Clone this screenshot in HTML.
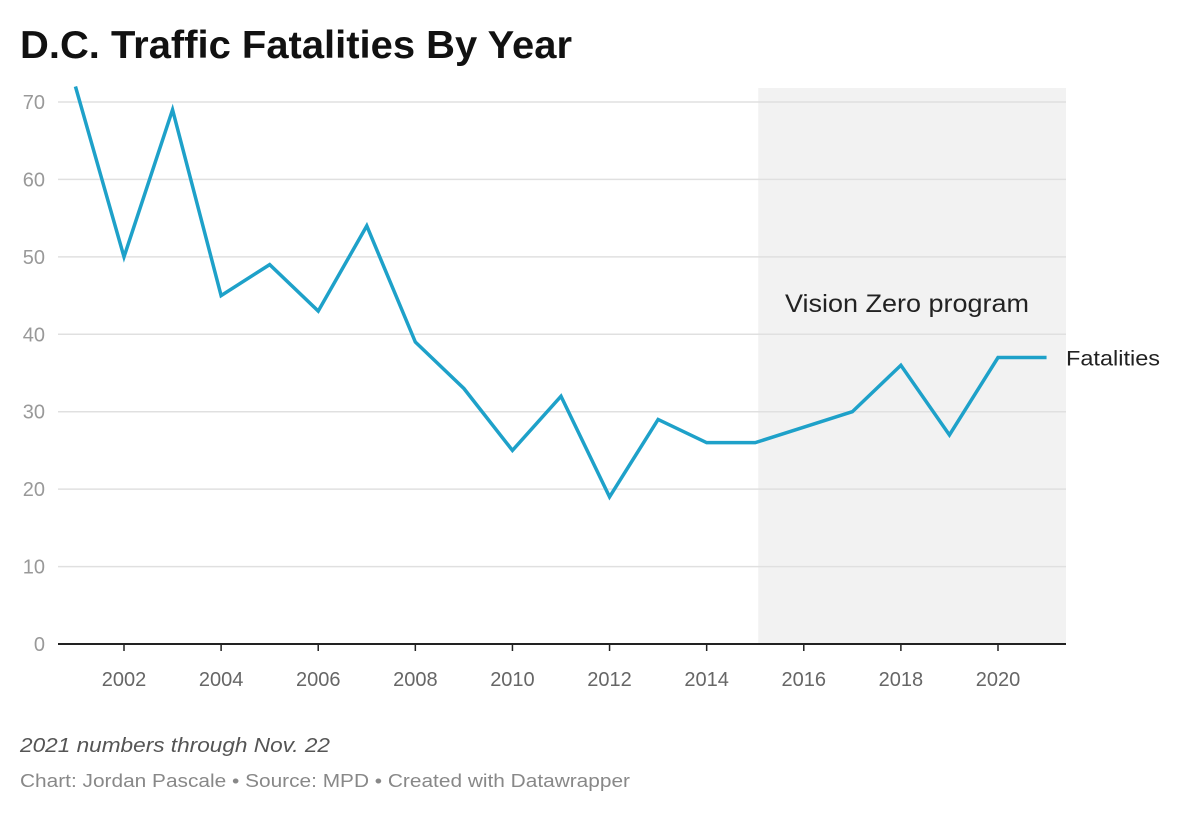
<!DOCTYPE html>
<html><head><meta charset="utf-8"><style>
body{margin:0;background:#fff;width:1200px;height:813px;overflow:hidden;font-family:"Liberation Sans",sans-serif;}
</style></head><body>
<svg width="1200" height="813" xmlns="http://www.w3.org/2000/svg">
<text x="20" y="58" font-size="39" font-weight="bold" fill="#111" textLength="552" lengthAdjust="spacingAndGlyphs">D.C. Traffic Fatalities By Year</text>
<g id="plot"></g>
<text x="20" y="752" font-size="20" font-style="italic" fill="#555" textLength="310" lengthAdjust="spacingAndGlyphs">2021 numbers through Nov. 22</text>
<text x="20" y="787" font-size="18" fill="#888" textLength="610" lengthAdjust="spacingAndGlyphs">Chart: Jordan Pascale • Source: MPD • Created with Datawrapper</text>
</svg>
<script>
const years=[2001,2002,2003,2004,2005,2006,2007,2008,2009,2010,2011,2012,2013,2014,2015,2016,2017,2018,2019,2020,2021];
const fatalities=[72,50,69,45,49,43,54,39,33,25,32,19,29,26,26,28,30,36,27,37,37];
const yTicks=[0,10,20,30,40,50,60,70];
const xTicks=[2002,2004,2006,2008,2010,2012,2014,2016,2018,2020];
const shadeStart=2015;
const NS="http://www.w3.org/2000/svg";
const g=document.getElementById('plot');
const x=v=>124+(v-2002)*(874/18);
const y=v=>644-v*(542/70);
function el(t,a){const e=document.createElementNS(NS,t);for(const k in a)e.setAttribute(k,a[k]);g.appendChild(e);return e;}
const sh=el('rect',{x:x(shadeStart)+3,y:88,width:1066-x(shadeStart)-3,height:556,fill:'#f2f2f2'});


yTicks.forEach(v=>{
  if(v>0){const l=el('line',{x1:58,x2:1066,y1:y(v),y2:y(v),stroke:'#e0e0e0','stroke-width':1.5});
  
  }
  const t=el('text',{x:45,y:y(v)+7,'font-size':20,fill:'#999','text-anchor':'end'});
  t.textContent=v;
  
  
});
const ax=el('line',{x1:58,x2:1066,y1:644,y2:644,stroke:'#222','stroke-width':2});


xTicks.forEach(v=>{
  const tk=el('line',{x1:x(v),x2:x(v),y1:644,y2:651,stroke:'#222','stroke-width':1.5});
  
  
  const t=el('text',{x:x(v),y:686,'font-size':20,fill:'#666','text-anchor':'middle'});
  t.textContent=v;
  
  
});
const ann=el('text',{x:907,y:312,'font-size':25,fill:'#222','text-anchor':'middle',textLength:244,lengthAdjust:'spacingAndGlyphs'});
ann.textContent='Vision Zero program';


const ln=el('polyline',{points:years.map((yr,i)=>x(yr)+','+y(fatalities[i])).join(' '),fill:'none',stroke:'#1ea1c9','stroke-width':3.5,'stroke-linejoin':'miter'});


const lb=el('text',{x:1066,y:y(fatalities[fatalities.length-1])+8,'font-size':21,fill:'#222',textLength:94,lengthAdjust:'spacingAndGlyphs'});
lb.textContent='Fatalities';


</script>
</body></html>
